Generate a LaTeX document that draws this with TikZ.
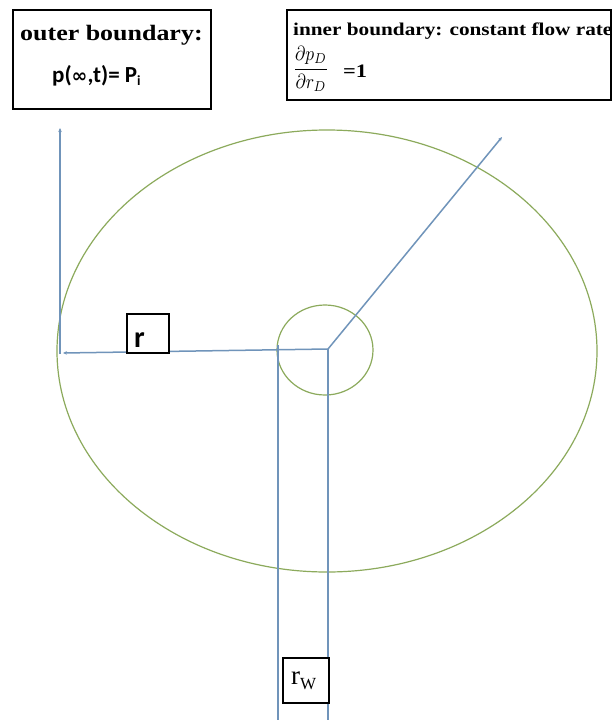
\documentclass[tikz,border=0pt]{standalone}
\usepackage{fontspec}
\usepackage{graphicx}
\usetikzlibrary{arrows.meta}
\newfontfamily\boxserif[FakeStretch=1.18]{Liberation Serif}
\newfontfamily\boxsans{Carlito}
\newfontfamily\symfont{DejaVu Sans}
\definecolor{lineblue}{RGB}{112,148,186}
\definecolor{ringgreen}{RGB}{140,170,92}
\tikzset{
  txtbox/.style={draw=black, line width=1.4pt},
  radline/.style={draw=lineblue, line width=1.5pt},
  radarrow/.style={radline, -{Stealth[length=4pt,width=3.5pt]}},
  ring/.style={draw=ringgreen, line width=1.2pt},
  lbl/.style={inner sep=0pt, anchor=base west}
}
\begin{document}
\begin{tikzpicture}[x=1pt,y=-1pt]
\useasboundingbox (0,0) rectangle (611,728);
\fill[white] (0,0) rectangle (611,728);
% boxes
\draw[txtbox] (13,10) rectangle (211,109);
\draw[txtbox] (287,10) rectangle (611,100);
\node[lbl] (outerlbl) at (20,40) {\boxserif\bfseries\fontsize{22}{24}\selectfont outer boundary:};
\node[lbl] (outereq) at (52,82) {\boxsans\bfseries\fontsize{23}{26}\selectfont p({\symfont\fontsize{19}{22}\selectfont ∞},t)= P\raisebox{-3pt}{\fontsize{14}{16}\selectfont i}};
\node[lbl] (innerlbl) at (293,35) {\boxserif\bfseries\fontsize{18}{20}\selectfont inner boundary: constant flow rate};
\node[inner sep=0pt] (frac) at (311,69) {\resizebox{36pt}{28pt}{$\displaystyle\frac{\partial p_D}{\partial r_D}$}};
\node[lbl] (eqone) at (343,77) {\boxserif\bfseries\fontsize{19}{22}\selectfont =1};
% geometry
\coordinate (c) at (328,349);
\draw[ring] (327,351) ellipse [x radius=270, y radius=221];
\draw[ring] (325,350) ellipse [x radius=48, y radius=45];
\coordinate (leftend) at (63,353);
\coordinate (corner) at (60,354);
\coordinate (topend) at (60,128);
\coordinate (diagend) at (502,137);
\coordinate (wl) at (278,345);
\coordinate (wlb) at (278,720);
\coordinate (wrb) at (328,720);
\draw[radarrow] (c) -- (leftend);
\draw[radarrow] (corner) -- (topend);
\draw[radarrow] (c) -- (diagend);
\draw[radline] (wl) -- (wlb);
\draw[radline] (c) -- (wrb);
% label boxes
\node[draw=black, line width=1.3pt, fill=white, minimum width=42pt, minimum height=39pt, inner sep=0pt] (rbox) at (148,333.5) {};
\node[lbl] (rtxt) at (134,347) {\boxsans\bfseries\fontsize{30}{32}\selectfont r};
\node[draw=black, line width=1.3pt, fill=white, minimum width=46pt, minimum height=45pt, inner sep=0pt] (rwbox) at (306,680.5) {};
\node[lbl] (rwtxt) at (291,684) {\fontspec{Liberation Serif}\fontsize{27}{29}\selectfont r\raisebox{-5pt}{\fontsize{17}{18}\selectfont W}};
\end{tikzpicture}
\end{document}
